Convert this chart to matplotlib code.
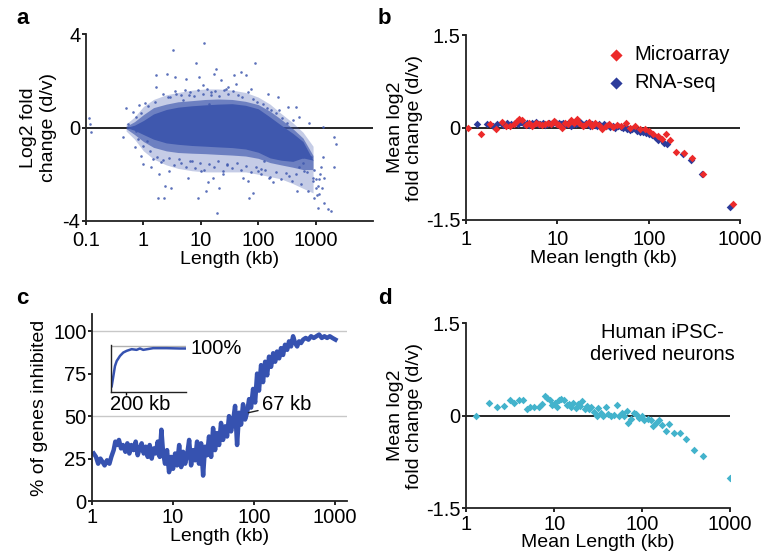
"""Gene length vs. expression change panels (a-d)."""

import matplotlib
matplotlib.use("Agg")
import matplotlib.pyplot as plt
import numpy as np

plt.rcParams["font.family"] = ["Liberation Sans", "DejaVu Sans"]
plt.rcParams["font.size"] = 14

# (a) individual genes: dense core / mid / halo envelopes + sparse outlying genes
env_len = [0.5, 0.7, 1.0, 1.5, 2.5, 4, 7, 12, 20, 35, 60, 100, 160, 250, 400, 600, 900]
halo_hi = [0.15, 0.45, 0.9, 1.2, 1.4, 1.5, 1.6, 1.65, 1.65, 1.6, 1.5, 1.3, 1.0, 0.6, 0.2, -0.2, -0.8]
halo_lo = [-0.15, -0.5, -1.0, -1.35, -1.6, -1.75, -1.85, -1.9, -1.9, -1.9, -1.9, -2.0, -2.1, -2.2, -2.4, -2.6, -2.8]
mid_hi = [0.05, 0.25, 0.55, 0.85, 1.0, 1.1, 1.15, 1.2, 1.22, 1.2, 1.12, 0.98, 0.7, 0.35, -0.05, -0.45, -1.2]
mid_lo = [-0.05, -0.3, -0.6, -0.85, -1.0, -1.07, -1.1, -1.12, -1.15, -1.18, -1.22, -1.32, -1.5, -1.6, -1.7, -1.8, -1.8]
core_hi = [0.0, 0.1, 0.3, 0.58, 0.77, 0.87, 0.93, 0.97, 1.0, 1.02, 0.95, 0.8, 0.45, 0.1, -0.25, -0.6, -1.4]
core_lo = [0.0, -0.12, -0.3, -0.5, -0.66, -0.72, -0.77, -0.8, -0.83, -0.86, -0.92, -1.06, -1.3, -1.4, -1.45, -1.3, -1.4]

gene_len = [0.111, 0.117, 0.122, 0.434, 0.497, 0.531, 0.648, 0.741, 0.722, 0.847,
            0.906, 1.08, 0.99, 1.15, 1.35, 1.44, 1.65, 1.65, 1.76, 1.88,
            2.01, 2.30, 2.40, 2.53, 2.63, 2.81, 3.01, 3.30, 3.58, 3.68,
            4.20, 4.80, 5.48, 5.86, 6.27, 6.97, 8.18, 8.75, 9.35, 10.0,
            10.7, 11.4, 12.2, 13.1, 14.0, 14.9, 16.0, 17.1, 18.2, 19.5,
            20.8, 22.3, 24.4, 27.2, 29.1, 29.5, 38.5, 41.2, 50.4, 53.8,
            61.5, 65.7, 70.2, 75.0, 80.2, 88.1, 98.0, 112, 128, 146,
            156, 179, 218, 233, 285, 326, 348, 398, 455, 473,
            520, 556, 594, 635, 726, 776, 830, 887, 948, 1014,
            1084, 1159, 1240, 1325, 1416, 1618, 1325, 1416, 1850, 2113,
            2259, 2055, 1000, 1100, 1200, 950, 1050, 900, 1300, 1150,
            # speckle along the upper edge of the cloud
            2.2, 2.9, 3.5, 4.5, 5.2, 6.5, 7.5, 9, 11, 13,
            15, 18, 21, 25, 30, 36, 44, 52, 65, 80,
            95, 120, 140, 170, 200, 260, 320, 1.2, 1.6, 0.9, 0.75,
            # speckle along the lower edge of the cloud
            0.8, 1.0, 1.3, 1.7, 2.2, 2.8, 3.4, 4.5, 5.5, 6.5,
            8, 9.5, 11.5, 14, 17, 20, 24, 29, 35, 42,
            50, 60, 75, 90, 110, 130, 160, 200, 250, 300,
            380, 450, 520, 600, 700, 650, 500]
gene_lfc = [0.42, 0.13, -0.20, -0.39, 0.85, 0.16, 0.66, -0.13, -0.85, 0.95,
            -1.20, 1.05, -1.56, -0.56, -1.71, -1.35, 2.24, 1.73, -3.00, -1.99,
            -1.49, -3.00, -2.49, 2.31, 1.30, -1.85, -2.57, 3.31, 2.14, 1.45,
            -1.35, 1.16, 2.09, -2.14, 1.38, -1.42, 2.74, -3.00, 2.16, -1.85,
            1.81, 3.63, -2.71, -2.35, 1.02, 1.52, -2.14, 2.31, 2.52, -3.68,
            -2.57, 2.02, -1.99, 1.66, -1.56, 1.73, 2.24, 1.88, 2.38, -2.14,
            2.24, -2.28, -3.00, 1.66, -2.82, 2.74, -1.85, -1.78, -1.42, 1.45,
            -2.14, -2.35, 1.30, 0.73, -1.20, 0.87, -2.06, 0.33, 0.87, -2.71,
            0.44, -2.42, -1.28, -1.85, -2.71, 0.19, -1.28, -2.14, -3.00, -2.57,
            -3.43, -2.85, -1.71, -1.28, -3.21, -3.50, 0.04, -2.14, -3.57, -0.42,
            -0.70, -1.71, -2.2, -2.5, -2.0, -1.8, -2.9, -2.3, -2.6, -2.2,
            1.45, 1.3, 1.55, 1.4, 1.6, 1.5, 1.35, 1.6, 1.45, 1.65,
            1.4, 1.55, 1.35, 1.6, 1.45, 1.55, 1.4, 1.3, 1.5, 1.2,
            1.1, 1.0, 0.85, 0.75, 0.6, 0.4, 0.2, 0.9, 1.1, 0.6, 0.45,
            -0.5, -0.8, -1.0, -1.25, -1.4, -1.3, -1.6, -1.5, -1.7, -1.45,
            -1.75, -1.5, -1.8, -1.55, -1.7, -1.45, -1.85, -1.6, -1.75, -1.5,
            -1.8, -1.65, -1.9, -1.7, -2.0, -1.8, -2.1, -1.9, -2.2, -1.95,
            -2.3, -2.0, -1.7, -1.5, -1.9, -0.9, -0.6]

# (b) binned means
micro_len = [1.04, 1.45, 1.8, 2.14, 2.45, 2.7, 3.0, 3.3, 3.6, 3.8,
             4.1, 4.5, 4.9, 5.3, 5.8, 6.3, 6.8, 7.3, 7.9, 8.5,
             9.1, 9.8, 10.5, 11.3, 12.1, 13.0, 14.0, 15.0, 16.2, 17.4,
             18.8, 20.3, 22.0, 24.0, 26.0, 28.5, 31, 34, 37, 41,
             45, 50, 56, 62, 70, 80, 90, 100, 112, 125,
             140, 155, 170, 200, 240, 300, 390, 830]
micro_lfc = [-0.01, -0.11, 0.05, -0.03, 0.09, 0.02, 0.03, 0.05, 0.10, 0.14,
             0.12, 0.04, 0.07, 0.03, 0.08, 0.06, 0.04, 0.05, 0.08, 0.05,
             0.10, 0.06, 0.04, 0.00, 0.07, 0.06, 0.12, 0.08, 0.14, 0.07,
             0.02, 0.06, 0.09, 0.03, 0.07, 0.04, -0.02, 0.03, 0.05, 0.01,
             0.04, 0.02, 0.07, 0.00, 0.03, -0.02, -0.02, -0.06, -0.10, -0.14,
             -0.18, -0.10, -0.20, -0.40, -0.41, -0.49, -0.76, -1.25]
rnaseq_len = [1.31, 1.69, 1.95, 2.2, 2.5, 2.8, 3.1, 3.4, 3.7, 4.0,
              4.3, 4.6, 4.9, 5.2, 5.5, 5.8, 6.1, 6.5, 6.9, 7.3,
              7.7, 8.1, 8.5, 9.0, 9.5, 10.0, 10.5, 11.0, 11.6, 12.2,
              12.8, 13.5, 14.2, 15.0, 15.8, 16.6, 17.5, 18.5, 19.5, 20.5,
              21.6, 22.8, 24.0, 25.5, 27, 28.5, 30, 32, 34, 36,
              38, 40.5, 43, 46, 49, 52, 55, 58, 62, 66,
              70, 75, 81, 87, 93, 100, 108, 116, 125, 135,
              147, 160, 236, 291, 380, 770]
rnaseq_lfc = [0.065, 0.065, 0.03, 0.06, 0.04, 0.07, 0.05, 0.08, 0.06, 0.09,
              0.05, 0.07, 0.04, 0.08, 0.05, 0.09, 0.06, 0.05, 0.07, 0.04,
              0.06, 0.08, 0.05, 0.07, 0.09, 0.06, 0.08, 0.05, 0.07, 0.04,
              0.06, 0.08, 0.03, 0.06, 0.05, 0.07, 0.09, 0.06, 0.04, 0.07,
              0.05, 0.03, 0.06, 0.04, 0.02, 0.05, 0.03, 0.06, 0.02, 0.04,
              0.01, 0.03, 0.00, 0.02, 0.01, -0.01, 0.02, -0.02, -0.04, -0.03,
              0.00, -0.05, -0.07, -0.08, -0.09, -0.10, -0.12, -0.15, -0.20, -0.18,
              -0.25, -0.27, -0.43, -0.53, -0.76, -1.29]

# (c) sliding-window % of genes inhibited
win_len = [1.05, 1.12, 1.19, 1.27, 1.35, 1.43, 1.53, 1.64, 1.73, 1.85,
           1.94, 2.04, 2.15, 2.28, 2.41, 2.58, 2.73, 2.89, 3.06, 3.27,
           3.46, 3.66, 3.88, 4.10, 4.35, 4.60, 4.87, 5.15, 5.45, 5.77,
           6.11, 6.47, 6.85, 7.18, 7.52, 7.96, 8.43, 8.93, 9.45, 10.0,
           10.6, 11.2, 11.9, 12.6, 13.3, 14.1, 14.9, 15.8, 16.7, 17.7,
           18.7, 19.8, 20.9, 22.2, 23.5, 24.8, 26.3, 27.8, 29.5, 31.2,
           33.0, 34.9, 37.0, 39.1, 41.4, 43.9, 46.4, 49.1, 52.0, 55.1,
           58.3, 61.7, 65.3, 69.1, 73.1, 77.4, 81.9, 86.8, 91.8, 97.2,
           103, 109, 115, 122, 129, 137, 145, 153, 162, 172,
           182, 192, 204, 215, 228, 241, 256, 270, 286, 303,
           321, 340, 359, 380, 403, 434, 469, 505, 546, 588,
           635, 685, 739, 797, 860, 927, 1010]
win_pct = [28, 26, 22, 25, 23, 21, 24, 22, 26, 30,
           35, 33, 36, 31, 33, 29, 34, 28, 33, 30,
           35, 27, 31, 34, 28, 32, 26, 33, 25, 31,
           28, 35, 26, 42, 29, 22, 30, 17, 26, 19,
           28, 21, 33, 20, 29, 22, 27, 36, 21, 30,
           24, 35, 22, 34, 15, 32, 27, 38, 26, 43,
           30, 40, 33, 46, 36, 44, 38, 50, 41, 47,
           56, 33, 52, 45, 57, 48, 52, 60, 55, 66,
           58, 75, 65, 80, 70, 82, 74, 85, 79, 87,
           82, 88, 84, 90, 86, 92, 89, 94, 91, 97,
           93, 91, 94, 93, 95, 96, 95, 97, 96, 97,
           98, 96, 97, 96, 97, 96, 95]
inset_len = [9, 31, 53, 76, 120, 164, 209, 276, 342, 387, 431, 564, 742, 920, 987]
inset_pct = [12.6, 34.8, 57.0, 68.1, 79.3, 86.7, 90.4, 94.1, 92.6, 95.6, 92.6, 96.3, 96.3, 95.6, 95.6]

# (d) iPSC-derived neurons
ipsc_len = [1.29, 1.80, 2.24, 2.71, 3.12, 3.53, 3.95, 4.43, 4.92, 5.37,
            5.96, 6.68, 7.3, 7.76, 8.3, 8.9, 9.5, 10.1, 10.8, 11.3,
            12.1, 12.9, 13.8, 14.7, 15.6, 16.5, 17.5, 18.6, 19.7, 20.9,
            22.2, 23.4, 24.9, 26.4, 28.2, 30.3, 31.3, 33.6, 36.0, 38.4,
            40.9, 43.9, 48.1, 51.6, 55, 58.5, 62.7, 67.3, 69.8, 74.9,
            80.4, 86, 92.6, 98.4, 105, 115, 125, 134, 143, 157,
            170, 186, 202, 231, 270, 314, 385, 495, 985]
ipsc_lfc = [-0.01, 0.21, 0.14, 0.16, 0.25, 0.21, 0.25, 0.25, 0.11, 0.14,
            0.14, 0.14, 0.18, 0.32, 0.28, 0.25, 0.17, 0.21, 0.14, 0.26,
            0.27, 0.25, 0.17, 0.18, 0.14, 0.21, 0.13, 0.19, 0.15, 0.23,
            0.11, 0.15, 0.10, 0.14, 0.06, -0.01, 0.13, 0.04, -0.01, 0.14,
            0.03, -0.01, 0.005, 0.17, -0.01, 0.04, -0.01, 0.08, -0.12, -0.05,
            0.04, 0.03, -0.04, -0.01, -0.08, -0.05, -0.08, -0.17, -0.12, -0.07,
            -0.16, -0.25, -0.14, -0.28, -0.28, -0.38, -0.56, -0.65, -1.01]

DOT_BLUE = "#3f58ae"
LINE_BLUE = "#3652b0"
RED = "#ec2a2a"
NAVY = "#2c3b9a"
CYAN = "#43b3cc"


def style_axis(axis, xlim, ylim, yticks, yticklabels, xticks, xticklabels):
    axis.set_xscale("log")
    axis.set_xlim(*xlim)
    axis.set_ylim(*ylim)
    axis.set_yticks(yticks, yticklabels)
    axis.set_xticks(xticks, xticklabels)
    axis.minorticks_off()
    for side in ("top", "right"):
        axis.spines[side].set_visible(False)
    for side in ("left", "bottom"):
        axis.spines[side].set_linewidth(1.3)
        axis.spines[side].set_color("#222222")
    axis.tick_params(length=3, width=1.2, labelsize=14.5)
    axis.tick_params(axis="y", pad=1)
    axis.tick_params(axis="x", pad=4)


figure = plt.figure(figsize=(7.63, 5.58), dpi=100)

# (a)
axis = figure.add_axes([0.1127, 0.604, 0.3763, 0.335])
axis.axhline(0, color="black", linewidth=1.2, zorder=1)
axis.fill_between(env_len, halo_lo, halo_hi, color=DOT_BLUE, alpha=0.3, linewidth=0, zorder=2)
axis.fill_between(env_len, mid_lo, mid_hi, color=DOT_BLUE, alpha=0.65, linewidth=0, zorder=2)
axis.fill_between(env_len, core_lo, core_hi, color=DOT_BLUE, alpha=1.0, linewidth=0, zorder=2)
axis.scatter(gene_len, gene_lfc, s=3.5, color=DOT_BLUE, alpha=0.85, linewidths=0, zorder=3)
style_axis(axis, (0.1, 10000), (-4, 4), [4, 0, -4], ["4", "0", "-4"],
           [0.1, 1, 10, 100, 1000], ["0.1", "1", "10", "100", "1000"])
axis.set_xlabel("Length (kb)", labelpad=1)
axis.set_ylabel("Log2 fold\nchange (d/v)", labelpad=4)

# (b)
axis = figure.add_axes([0.611, 0.606, 0.359, 0.331])
axis.axhline(0, color="black", linewidth=1.2, zorder=1)
axis.scatter(micro_len, micro_lfc, marker="D", s=15, color=RED, linewidths=0, zorder=3, label="Microarray")
axis.scatter(rnaseq_len, rnaseq_lfc, marker="D", s=15, color=NAVY, linewidths=0, zorder=2, label="RNA-seq")
style_axis(axis, (1, 1000), (-1.5, 1.5), [1.5, 0, -1.5], ["1.5", "0", "-1.5"],
           [1, 10, 100, 1000], ["1", "10", "100", "1000"])
axis.set_xlabel("Mean length (kb)", labelpad=1)
axis.set_ylabel("Mean log2\nfold change (d/v)", labelpad=2)
axis.legend(loc="upper right", frameon=False, fontsize=14.5, handletextpad=-0.1,
            borderaxespad=0.1, labelspacing=0.45, markerscale=1.6, bbox_to_anchor=(1.0, 1.0))

# (c)
axis = figure.add_axes([0.1206, 0.102, 0.3341, 0.335])
for level in (50, 100):
    axis.axhline(level, color="#c8c8c8", linewidth=1.0, zorder=1)
axis.plot(win_len, win_pct, color=LINE_BLUE, linewidth=3.2, zorder=2)
style_axis(axis, (1, 1400), (0, 110), [0, 25, 50, 75, 100], ["0", "25", "50", "75", "100"],
           [1, 10, 100, 1000], ["1", "10", "100", "1000"])
axis.tick_params(axis="x", pad=2)
axis.set_xlabel("Length (kb)", labelpad=1)
axis.set_ylabel("% of genes inhibited", labelpad=4)
axis.annotate("67 kb", xy=(85, 52), xytext=(126, 57), va="center", ha="left", fontsize=14.5,
              arrowprops=dict(arrowstyle="-", color="#222222", linewidth=1.0, shrinkA=1, shrinkB=0))

inset = figure.add_axes([0.1455, 0.2975, 0.098, 0.084])
inset.axhline(100, color="#b0b0b0", linewidth=1.0, zorder=1)
inset.plot(inset_len, inset_pct, color=LINE_BLUE, linewidth=1.8, zorder=2)
inset.set_xlim(0, 1000)
inset.set_ylim(0, 103)
inset.set_xticks([200], [""])
inset.set_yticks([])
inset.tick_params(length=2, width=1)
for side in ("top", "right"):
    inset.spines[side].set_visible(False)
for side in ("left", "bottom"):
    inset.spines[side].set_linewidth(1.0)
    inset.spines[side].set_color("#222222")
inset.patch.set_alpha(0)
figure.text(190 / 763, 1 - 349 / 558, "100%", fontsize=14.5, va="center", ha="left")
figure.text(110 / 763, 1 - 405 / 558, "200 kb", fontsize=14.5, va="center", ha="left")

# (d)
axis = figure.add_axes([0.611, 0.0896, 0.346, 0.3314])
axis.axhline(0, color="black", linewidth=1.2, zorder=1)
axis.scatter(ipsc_len, ipsc_lfc, marker="D", s=15, color=CYAN, linewidths=0, zorder=2)
style_axis(axis, (1, 1000), (-1.5, 1.5), [1.5, 0, -1.5], ["1.5", "0", "-1.5"],
           [1, 10, 100, 1000], ["1", "10", "100", "1000"])
axis.tick_params(axis="x", pad=2)
axis.set_xlabel("Mean Length (kb)", labelpad=0)
axis.set_ylabel("Mean log2\nfold change (d/v)", labelpad=2)
axis.text(0.745, 0.89, "Human iPSC-\nderived neurons", transform=axis.transAxes,
          ha="center", va="center", fontsize=14.5, linespacing=1.15)

for letter, x, y in (("a", 16, 18), ("b", 378, 18), ("c", 16, 298), ("d", 378, 298)):
    figure.text(x / 763, 1 - y / 558, letter, fontsize=16, fontweight="bold", va="center", ha="left")

figure.savefig("out.png", dpi=100)
